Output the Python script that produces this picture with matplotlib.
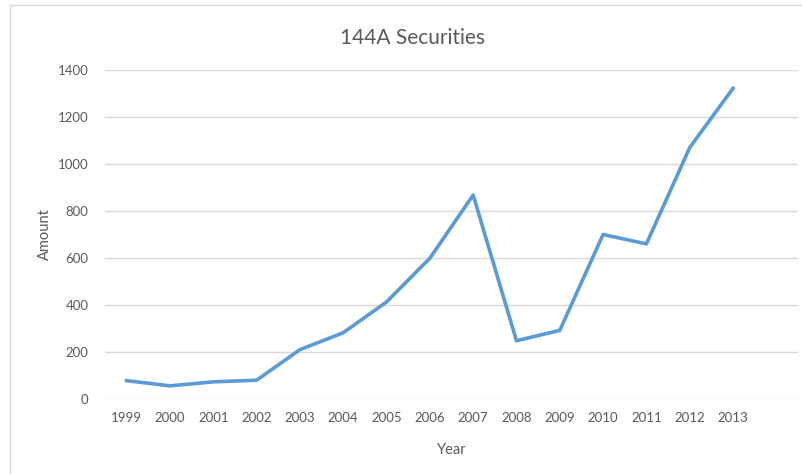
import matplotlib
matplotlib.use("Agg")
import matplotlib.pyplot as plt
from matplotlib.lines import Line2D

years = ['1999', '2000', '2001', '2002', '2003', '2004', '2005', '2006',
         '2007', '2008', '2009', '2010', '2011', '2012', '2013']
amounts = [78, 56, 73, 80, 210, 282, 413, 599, 868, 248, 292, 700, 660, 1070, 1322]
yticks = [0, 200, 400, 600, 800, 1000, 1200, 1400]

plt.rcParams['font.family'] = ['Lato', 'DejaVu Sans']
textgray = '#595959'

fig = plt.figure(figsize=(8.03, 4.74), dpi=100)
ax = fig.add_axes([105/803, 1 - 399/474, (798 - 105)/803, (399 - 70)/474])

x = list(range(len(years)))
ax.plot(x, amounts, color='#5B9BD5', linewidth=2.6, solid_joinstyle='round', zorder=3)

ax.set_xlim(-0.5, len(years) + 0.5)
ax.set_ylim(0, 1400)
ax.set_xticks(x)
ax.set_xticklabels(years)
ax.set_yticks(yticks)
ax.tick_params(length=0, colors=textgray, labelsize=9.5)
ax.tick_params(axis='x', pad=9)
ax.tick_params(axis='y', pad=12)
ax.grid(axis='y', color='#D9D9D9', linewidth=1)
ax.set_axisbelow(True)
for s in ax.spines.values():
    s.set_visible(False)

ax.set_xlabel('Year', color=textgray, fontsize=10.5, labelpad=14)
ax.set_ylabel('Amount', color=textgray, fontsize=10.5, labelpad=4)
fig.text(413/803, 1 - 38/474, '144A Securities', ha='center', va='center',
         fontsize=15, color=textgray)

# chart frame
fig.add_artist(Line2D([10/803, 10/803], [0, 1 - 5/474], transform=fig.transFigure,
                      color='#D9D9D9', linewidth=1))
fig.add_artist(Line2D([10/803, 1], [1 - 5/474, 1 - 5/474], transform=fig.transFigure,
                      color='#D9D9D9', linewidth=1))

fig.savefig('out.png', dpi=100)
